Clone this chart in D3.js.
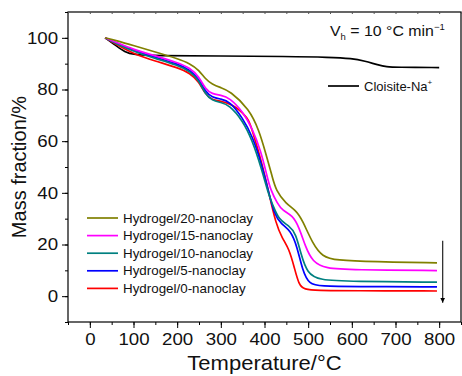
<!DOCTYPE html>
<html>
<head>
<meta charset="utf-8">
<script src="https://cdn.jsdelivr.net/npm/d3@7"></script>
<style>
  body { margin: 0; background: #fff; }
  svg { display: block; font-family: Arial, "Liberation Sans", sans-serif; }
</style>
</head>
<body>
<svg id="chart" width="462" height="376"></svg>
<script>
// TGA curves (temperature in °C, mass fraction in %)
const cloisiteT = [35, 60, 80, 100, 150, 300, 450, 550, 600, 630, 660, 680, 700, 800]
const cloisiteM = [100, 97, 94.5, 93.5, 93, 93, 92.8, 92.5, 92, 91, 89.5, 88.8, 88.6, 88.5]

const gel0T = [35, 60, 100, 150, 200, 230, 250, 265, 280, 300, 320, 334, 350, 365, 372, 392, 410, 426, 441, 456, 468, 479, 491, 520, 600, 795]
const gel0M = [100, 97.5, 93.8, 91, 88.5, 86.3, 83, 78, 76, 75.5, 74.5, 73.2, 71, 68, 64, 53, 40, 28, 22.3, 18.4, 11.3, 4.2, 2.6, 2.2, 2.1, 2.0]

const gel5T = [35, 60, 100, 150, 200, 230, 250, 265, 280, 300, 320, 350, 372, 392, 410, 422, 437, 460, 475, 487, 502, 530, 600, 795]
const gel5M = [100, 98, 95.2, 92.5, 90, 87.5, 84, 79, 77, 76.3, 75.5, 69, 62, 52, 40, 32, 28, 25.5, 19, 10, 4.5, 3.9, 3.7, 3.6]

const gel10T = [35, 60, 100, 150, 200, 230, 250, 265, 280, 300, 319, 350, 372, 392, 411, 418, 433, 456, 472, 483, 498, 525, 600, 795]
const gel10M = [100, 97.8, 94.8, 92, 89.5, 87, 83.5, 78, 75.8, 75, 74, 68, 60.3, 50, 38.4, 35.8, 29.4, 27.4, 24.2, 16.5, 8.8, 6.2, 5.7, 5.4]

const gel15T = [35, 60, 100, 150, 200, 230, 250, 265, 280, 300, 320, 350, 372, 392, 405, 414, 430, 441, 464, 479, 494, 510, 540, 600, 795]
const gel15M = [100, 98.3, 95.5, 93, 90.5, 88.3, 85, 80, 78.3, 77.8, 76.8, 71.5, 65, 56, 47, 41, 35.8, 33.2, 31.3, 26.8, 19, 13.3, 10.7, 10.2, 9.9]

const gel20T = [35, 60, 100, 150, 200, 230, 250, 265, 280, 300, 320, 365, 388, 403, 418, 426, 449, 472, 487, 510, 533, 563, 650, 795]
const gel20M = [100, 99, 97, 94.5, 92, 90, 87.5, 84, 82, 80.7, 79.5, 72.5, 64, 55.2, 46.1, 41, 35.8, 33.2, 29.4, 20.4, 15.2, 13.9, 13.3, 12.9]

const seriesNames = ['Cloisite-Na', 'Hydrogel/0-nanoclay', 'Hydrogel/5-nanoclay', 'Hydrogel/10-nanoclay', 'Hydrogel/15-nanoclay', 'Hydrogel/20-nanoclay']
const seriesColors = ['#000000', '#ff0000', '#0000ff', '#008080', '#ff00ff', '#808000']
const xTicks = [0, 100, 200, 300, 400, 500, 600, 700, 800]
const yTicks = [0, 20, 40, 60, 80, 100]

const series = [
  [cloisiteT, cloisiteM], [gel0T, gel0M], [gel5T, gel5M],
  [gel10T, gel10M], [gel15T, gel15M], [gel20T, gel20M]
].map(([t, m], i) => ({
  name: seriesNames[i],
  color: seriesColors[i],
  points: t.map((d, j) => [d, m[j]])
}))

const margin = { left: 68, top: 12, right: 1, bottom: 54 }
    , width = 462
    , height = 376
    , stretch = 'scale(1.1,1)' // the original text is a bit wide

const x = d3.scaleLinear().domain([-50, 850]).range([margin.left, width - margin.right])
const y = d3.scaleLinear().domain([-10, 110]).range([height - margin.bottom, margin.top])

const svg = d3.select('#chart')

const line = d3.line()
    .curve(d3.curveBasis)
    .x(d => x(d[0]))
    .y(d => y(d[1]))

svg.append('g')
    .attr('fill', 'none')
    .attr('stroke-width', 1.7)
  .selectAll('path')
  .data(series)
  .join('path')
    .attr('stroke', d => d.color)
    .attr('d', d => line(d.points))

// frame
svg.append('rect')
    .attr('x', x(-50)).attr('y', y(110))
    .attr('width', x(850) - x(-50)).attr('height', y(-10) - y(110))
    .attr('fill', 'none').attr('stroke', '#000').attr('stroke-width', 1.2)

// axes
const minorX = d3.range(-50, 851, 50)
    , minorY = d3.range(-10, 111, 10)

const xAxis = svg.append('g')
    .attr('transform', `translate(0,${y(-10)})`)
    .call(d3.axisBottom(x).tickValues(minorX).tickSize(3).tickFormat(''))
xAxis.select('.domain').remove()
const xMajor = svg.append('g')
    .attr('transform', `translate(0,${y(-10)})`)
    .call(d3.axisBottom(x).tickValues(xTicks).tickSize(6).tickPadding(5))
xMajor.select('.domain').remove()
xMajor.selectAll('text')
    .attr('font-size', 17).attr('fill', '#111')
    .attr('font-family', 'Arial, "Liberation Sans", sans-serif')
    .attr('transform', stretch)

const yAxis = svg.append('g')
    .attr('transform', `translate(${x(-50)},0)`)
    .call(d3.axisLeft(y).tickValues(minorY).tickSize(3).tickFormat(''))
yAxis.select('.domain').remove()
const yMajor = svg.append('g')
    .attr('transform', `translate(${x(-50)},0)`)
    .call(d3.axisLeft(y).tickValues(yTicks).tickSize(6).tickPadding(3))
yMajor.select('.domain').remove()
yMajor.selectAll('text')
    .attr('font-size', 17).attr('fill', '#111')
    .attr('font-family', 'Arial, "Liberation Sans", sans-serif')
    .attr('transform', stretch)

// small inward ticks on top
const xTop = svg.append('g')
    .attr('transform', `translate(0,${y(110)})`)
    .call(d3.axisBottom(x).tickValues(minorX).tickSize(2).tickFormat(''))
xTop.select('.domain').remove()
xTop.selectAll('line').attr('stroke', '#555')

// axis titles
svg.append('text')
    .attr('transform', `translate(${x(400)},370) ${stretch}`)
    .attr('text-anchor', 'middle')
    .attr('font-size', 20).attr('fill', '#111')
    .text('Temperature/°C')

svg.append('text')
    .attr('transform', `translate(26,${(y(110) + y(-10)) / 2}) rotate(-90)`)
    .attr('text-anchor', 'middle')
    .attr('font-size', 20).attr('fill', '#111')
    .text('Mass fraction/%')

// heating rate label
const vh = svg.append('text')
    .attr('transform', 'translate(330,36) scale(1.06,1)')
    .attr('font-size', 15).attr('fill', '#111')
vh.append('tspan').text('V')
vh.append('tspan').attr('font-size', 9).attr('dy', 4).text('h')
vh.append('tspan').attr('dy', -4).text(' = 10 °C min')
vh.append('tspan').attr('font-size', 9).attr('dy', -6).text('−1')

// cloisite legend
svg.append('line')
    .attr('x1', 328).attr('x2', 359).attr('y1', 86).attr('y2', 86)
    .attr('stroke', '#000').attr('stroke-width', 1.7)
const cl = svg.append('text')
    .attr('x', 364).attr('y', 91)
    .attr('font-size', 13).attr('fill', '#111')
cl.append('tspan').text(seriesNames[0])
cl.append('tspan').attr('font-size', 8).attr('dy', -6).text('+')

// hydrogel legend (20 at top)
const legendItems = series.slice(1).reverse()
const legend = svg.append('g')
  .selectAll('g')
  .data(legendItems)
  .join('g')
    .attr('transform', (d, i) => `translate(87,${218 + i * 17.6})`)
legend.append('line')
    .attr('x1', 0).attr('x2', 31)
    .attr('stroke', d => d.color).attr('stroke-width', 1.7)
legend.append('text')
    .attr('transform', 'translate(36,4.5) scale(1.07,1)')
    .attr('font-size', 12.5).attr('fill', '#111')
    .text(d => d.name)

// arrow showing trend
svg.append('defs').append('marker')
    .attr('id', 'arrowhead')
    .attr('viewBox', '0 0 10 10')
    .attr('refX', 10).attr('refY', 5)
    .attr('markerWidth', 5).attr('markerHeight', 5)
    .attr('markerUnits', 'userSpaceOnUse')
    .attr('orient', 'auto')
  .append('path')
    .attr('d', 'M0,0 L10,5 L0,10 z')
    .attr('fill', '#000')
svg.append('line')
    .attr('x1', x(808)).attr('x2', x(808))
    .attr('y1', y(21.5)).attr('y2', y(-2.5))
    .attr('stroke', '#333').attr('stroke-width', 1.3)
    .attr('marker-end', 'url(#arrowhead)')
</script>
</body>
</html>
